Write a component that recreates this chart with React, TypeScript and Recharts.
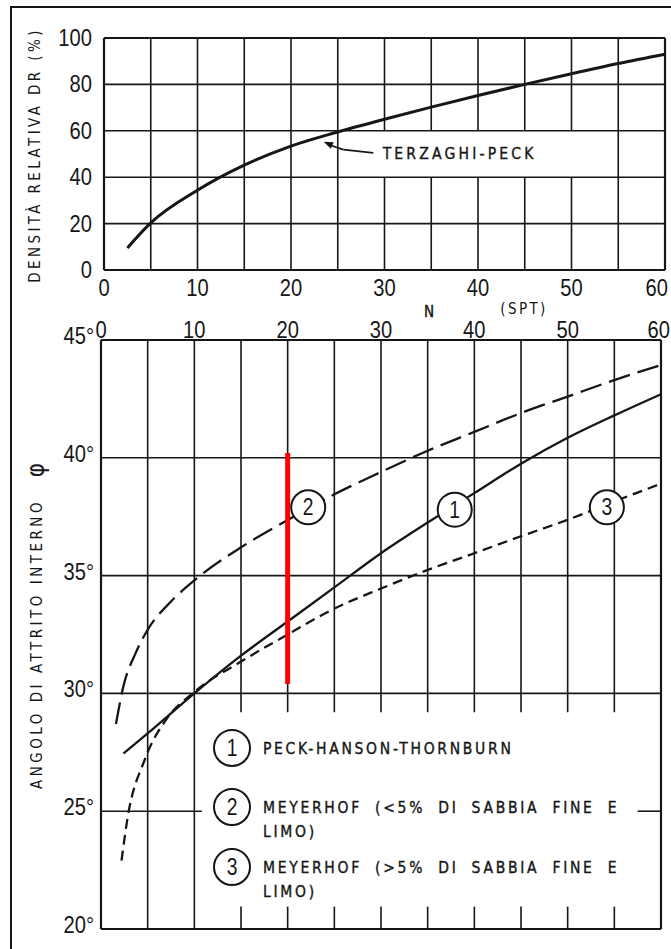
import React from "react";
import { LineChart, Line, XAxis, YAxis, ReferenceLine, ReferenceDot } from "recharts";

// N (SPT) axis
const nTicks = [0, 10, 20, 30, 40, 50, 60];
const nGrid = [0, 5, 10, 15, 20, 25, 30, 35, 40, 45, 50, 55, 60];
const nGridLabelGap = [30, 35, 40, 45, 50]; // interrupted under the Terzaghi-Peck label
const nGridLegendGap = [15, 20, 25, 30, 35, 40, 45, 50, 55]; // interrupted over the legend

// relative density panel
const drTicks = [0, 20, 40, 60, 80, 100];
const terzaghiN = [2.5, 5, 10, 15, 20, 25, 30, 35, 40, 45, 50, 55, 60];
const terzaghiDr = [9.5, 20.3, 34.4, 45.2, 53.4, 59.5, 65, 70.2, 75.2, 80, 84.6, 89, 93];

// friction angle panel
const phiTicks = [20, 25, 30, 35, 40, 45];
const phiGrid = [20, 30, 35, 40, 45];
const peckN = [2.4, 5, 10, 15, 20, 25, 30, 35, 40, 45, 50, 55, 60];
const peckPhi = [27.45, 28.3, 30.0, 31.6, 33.05, 34.5, 35.95, 37.25, 38.5, 39.75, 40.85, 41.8, 42.7];
const meyerCleanN = [1.6, 2.4, 3.7, 5, 7.5, 10, 15, 20, 25, 30, 35, 40, 45, 50, 55, 60];
const meyerCleanPhi = [28.7, 30.3, 31.7, 32.7, 33.9, 34.8, 36.2, 37.36, 38.45, 39.4, 40.3, 41.1, 41.9, 42.6, 43.3, 43.94];
const meyerSiltN = [2.2, 2.8, 4.7, 7, 9.8, 15, 20, 25, 30, 35, 40, 45, 50, 55, 60];
const meyerSiltPhi = [22.9, 24.6, 27.2, 28.9, 30.0, 31.35, 32.5, 33.6, 34.45, 35.24, 35.95, 36.67, 37.37, 38.15, 38.9];

const curveTags = ["1", "2", "3"];
const tagN = [37.9, 22.2, 54.2];
const tagPhi = [37.8, 37.9, 37.9];

const legendLines = [
  ["PECK-HANSON-THORNBURN"],
  ["MEYERHOF (<5% DI SABBIA FINE E", "LIMO)"],
  ["MEYERHOF (>5% DI SABBIA FINE E", "LIMO)"],
];

const INK = "#161616";
const DIGITS = "'Liberation Sans', Arial, sans-serif";
const PLOTTER = "'DejaVu Sans Condensed', 'DejaVu Sans', sans-serif";

const terzaghiData = terzaghiN.map((n, i) => ({ n, v: terzaghiDr[i] }));
const peckData = peckN.map((n, i) => ({ n, v: peckPhi[i] }));
const cleanData = meyerCleanN.map((n, i) => ({ n, v: meyerCleanPhi[i] }));
const siltData = meyerSiltN.map((n, i) => ({ n, v: meyerSiltPhi[i] }));

// condensed numerals like the scanned drawing
const Num = ({ x, y, anchor = "middle", size = 24, children }: any) => (
  <text transform={`translate(${x} ${y}) scale(0.84 1)`} textAnchor={anchor} fontSize={size}
    fontFamily={DIGITS} fill={INK}>
    {children}
  </text>
);

const lastN = nTicks[nTicks.length - 1];

const BottomTick = ({ x, y, payload }: any) =>
  payload.value === lastN
    ? <Num x={x + 5} y={y + 26} anchor="end">{payload.value}</Num>
    : <Num x={x} y={y + 26}>{payload.value}</Num>;
const TopTick = ({ x, y, payload }: any) =>
  payload.value === lastN
    ? <Num x={x + 9} y={y - 2} anchor="end">{payload.value}</Num>
    : <Num x={x} y={y - 2}>{payload.value}</Num>;
const DrTick = ({ x, y, payload }: any) => (
  <Num x={x - 12} y={y + 8} anchor="end">{payload.value}</Num>
);
const PhiTick = ({ x, y, payload }: any) => (
  <Num x={x - 7} y={y + 4} anchor="end">{payload.value}°</Num>
);

const TagShape = (label: string) => (p: any) => (
  <g>
    <circle cx={p.cx} cy={p.cy} r={17} fill="#fff" stroke={INK} strokeWidth={2} />
    <Num x={p.cx} y={p.cy + 8} size={23}>{label}</Num>
  </g>
);

const ArrowHead = (p: any) => (
  <polygon
    points={`${p.cx},${p.cy} ${p.cx + 10},${p.cy + 0.5} ${p.cx + 7},${p.cy + 7}`}
    fill={INK}
  />
);

const LabelShape = (p: any) => (
  <text x={p.cx} y={p.cy} dy={6} fontSize={15.5} letterSpacing={3.2} fontFamily={PLOTTER} fill={INK}
    stroke={INK} strokeWidth={0.35}>
    TERZAGHI-PECK
  </text>
);

export default function App() {
  return (
    <div style={{ position: "absolute", left: 0, top: 0, width: 671, height: 949, background: "#fff", overflow: "hidden" }}>
      <div style={{ position: "absolute", left: 10, top: 6, width: 661, height: 943, borderLeft: `2px solid ${INK}`, borderTop: `2px solid ${INK}` }} />

      {/* relative density */}
      <div style={{ position: "absolute", left: 0, top: 0 }}>
        <LineChart width={671} height={312} margin={{ top: 38, right: 6, bottom: 12, left: 0 }}>
          <XAxis type="number" dataKey="n" domain={[0, 60]} ticks={nTicks} height={30}
            axisLine={false} tickLine={false} tickSize={0} tickMargin={0} tick={<BottomTick />} />
          <YAxis type="number" dataKey="v" domain={[0, 100]} ticks={drTicks} width={104}
            axisLine={false} tickLine={false} tickSize={0} tickMargin={0} tick={<DrTick />} />
          {drTicks.map((v) => (
            <ReferenceLine key={"h" + v} y={v} stroke={INK} strokeWidth={v === 0 || v === 100 ? 2.2 : 1.6} />
          ))}
          {nGrid.filter((v) => !nGridLabelGap.includes(v)).map((v) => (
            <ReferenceLine key={"v" + v} x={v} stroke={INK} strokeWidth={v === 0 || v === 60 ? 2.2 : 1.6} />
          ))}
          {nGridLabelGap.map((v) => (
            <ReferenceLine key={"a" + v} segment={[{ x: v, y: 60 }, { x: v, y: 100 }]} stroke={INK} strokeWidth={1.6} />
          ))}
          {nGridLabelGap.map((v) => (
            <ReferenceLine key={"b" + v} segment={[{ x: v, y: 0 }, { x: v, y: 40 }]} stroke={INK} strokeWidth={1.6} />
          ))}
          <Line data={terzaghiData} dataKey="v" type="monotone" stroke={INK} strokeWidth={3}
            dot={false} isAnimationActive={false} />
          <ReferenceLine segment={[{ x: 23.9, y: 54.2 }, { x: 25.6, y: 51.9 }]} stroke={INK} strokeWidth={1.8} />
          <ReferenceLine segment={[{ x: 25.6, y: 51.9 }, { x: 28.8, y: 50.5 }]} stroke={INK} strokeWidth={1.8} />
          <ReferenceDot x={23.5} y={55.3} r={0} shape={ArrowHead} />
          <ReferenceDot x={29.8} y={50.6} r={0} shape={LabelShape} />
        </LineChart>
      </div>

      {/* friction angle */}
      <div style={{ position: "absolute", left: 0, top: 300 }}>
        <LineChart width={671} height={649} margin={{ top: 10, right: 10, bottom: 20, left: 0 }}>
          <XAxis type="number" dataKey="n" orientation="top" domain={[0, 60]} ticks={nTicks} height={30}
            axisLine={false} tickLine={false} tickSize={0} tickMargin={0} tick={<TopTick />} />
          <YAxis type="number" dataKey="v" domain={[20, 45]} ticks={phiTicks} width={101}
            axisLine={false} tickLine={false} tickSize={0} tickMargin={0} tick={<PhiTick />} />
          {phiGrid.map((v) => (
            <ReferenceLine key={"h" + v} y={v} stroke={INK} strokeWidth={v === 20 || v === 45 ? 2.2 : 1.6} />
          ))}
          <ReferenceLine segment={[{ x: 0, y: 25 }, { x: 10.8, y: 25 }]} stroke={INK} strokeWidth={1.6} />
          <ReferenceLine segment={[{ x: 57.5, y: 25 }, { x: 60, y: 25 }]} stroke={INK} strokeWidth={1.6} />
          {nGrid.filter((v) => !nGridLegendGap.includes(v)).map((v) => (
            <ReferenceLine key={"v" + v} x={v} stroke={INK} strokeWidth={v === 0 || v === 60 ? 2.2 : 1.6} />
          ))}
          {nGridLegendGap.map((v) => (
            <ReferenceLine key={"a" + v} segment={[{ x: v, y: 29.2 }, { x: v, y: 45 }]} stroke={INK} strokeWidth={1.6} />
          ))}
          {nGridLegendGap.map((v) => (
            <ReferenceLine key={"b" + v} segment={[{ x: v, y: 20 }, { x: v, y: 20.95 }]} stroke={INK} strokeWidth={1.6} />
          ))}
          <Line data={cleanData} dataKey="v" type="monotone" stroke={INK} strokeWidth={2.3}
            strokeDasharray="22 8" dot={false} isAnimationActive={false} />
          <Line data={peckData} dataKey="v" type="monotone" stroke={INK} strokeWidth={2.3}
            dot={false} isAnimationActive={false} />
          <Line data={siltData} dataKey="v" type="monotone" stroke={INK} strokeWidth={2.3}
            strokeDasharray="10 6" dot={false} isAnimationActive={false} />
          {curveTags.map((t, i) => (
            <ReferenceDot key={"t" + t} x={tagN[i]} y={tagPhi[i]} r={17} shape={TagShape(t)} />
          ))}
          <ReferenceLine segment={[{ x: 20, y: 40.2 }, { x: 20, y: 30.4 }]} stroke="#ff0000" strokeWidth={5} />
        </LineChart>
      </div>

      <svg width={671} height={949} style={{ position: "absolute", left: 0, top: 0, pointerEvents: "none" }}>
        <text x={35} y={155} transform="rotate(-90 35 155)" dy={5} textAnchor="middle" fontSize={15}
          letterSpacing={3.4} fontFamily={PLOTTER} fill={INK}>
          DENSITÀ RELATIVA DR (%)
        </text>
        <text x={37} y={644} transform="rotate(-90 37 644)" dy={5} textAnchor="middle" fontSize={15}
          letterSpacing={3.5} fontFamily={PLOTTER} fill={INK}>
          ANGOLO DI ATTRITO INTERNO
        </text>
        <text x={37} y={470} transform="rotate(-90 37 470)" dy={7} textAnchor="middle" fontSize={24}
          fontFamily={PLOTTER} fill={INK}>
          φ
        </text>
        <text x={429} y={317} textAnchor="middle" fontSize={15} fontFamily={PLOTTER} fill={INK}
          stroke={INK} strokeWidth={0.4}>N</text>
        <text x={524} y={314} textAnchor="middle" fontSize={15} letterSpacing={2.4} fontFamily={PLOTTER} fill={INK}>(SPT)</text>

        {legendLines.map((lines, i) => {
          const cy = [748, 807, 867][i];
          return (
            <g key={"lg" + i}>
              <circle cx={232} cy={cy} r={18} fill="#fff" stroke={INK} strokeWidth={2} />
              <Num x={232} y={cy + 8} size={23}>{curveTags[i]}</Num>
              {lines.map((ln, j) => (
                <text key={j} x={263} y={cy + 6 + j * 24} fontSize={15.5} letterSpacing={2.7}
                  wordSpacing={6} fontFamily={PLOTTER} fill={INK} stroke={INK} strokeWidth={0.35}>
                  {ln}
                </text>
              ))}
            </g>
          );
        })}
      </svg>
    </div>
  );
}
